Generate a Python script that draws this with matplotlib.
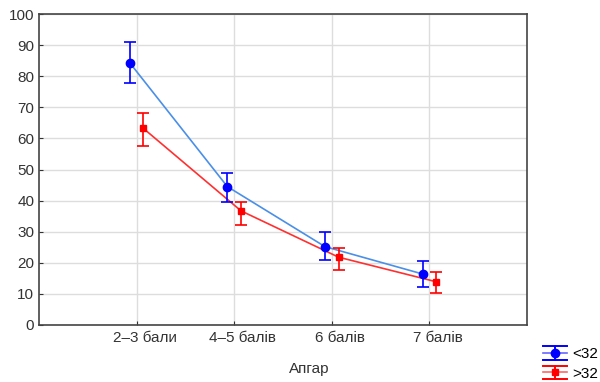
import matplotlib
matplotlib.use('Agg')
import matplotlib.pyplot as plt
import matplotlib.transforms as mtransforms
from matplotlib.legend_handler import HandlerBase
from matplotlib.lines import Line2D
import numpy as np

plt.rcParams['font.family'] = ['Liberation Sans', 'DejaVu Sans']

categories = ['2–3 бали', '4–5 балів', '6 балів', '7 балів']
lt32_mean = [84.3, 44.5, 25.2, 16.4]
lt32_low = [77.7, 39.6, 20.9, 12.3]
lt32_high = [90.9, 48.8, 29.8, 20.7]
gt32_mean = [63.2, 36.7, 21.8, 13.9]
gt32_low = [57.4, 32.2, 17.7, 10.4]
gt32_high = [68.3, 39.6, 24.9, 17.1]

x = np.arange(1, len(categories) + 1)

fig = plt.figure(figsize=(6, 3.82), dpi=100)
ax = fig.add_axes([39/600, 1 - 325/382, 488/600, 311/382])

def draw(xs, mean, low, high, mcolor, lcolor, marker, ms):
    mean = np.array(mean)
    yerr = [mean - np.array(low), np.array(high) - mean]
    ax.plot(xs, mean, color=lcolor, lw=1.2, zorder=2)
    ax.errorbar(xs, mean, yerr=yerr, fmt=marker, color=mcolor, ms=ms,
                capsize=4, elinewidth=1.2, capthick=1.2, zorder=3)

draw(x - 0.07, lt32_mean, lt32_low, lt32_high, '#0000ff', '#4a8fe8', 'o', 6)
draw(x + 0.07, gt32_mean, gt32_low, gt32_high, '#ff0000', '#ff3030', 's', 5)

ax.set_xlim(0, 5)
ax.set_ylim(0, 100)
ax.set_xticks(x)
ax.set_xticklabels(categories)
ax.set_yticks(range(0, 101, 10))
ax.grid(True, color='#dddddd', lw=1)
ax.set_axisbelow(True)
for s in ax.spines.values():
    s.set_color('#444444')
    s.set_linewidth(1.2)
ax.tick_params(colors='#333333', labelsize=11, length=3, direction='in')
ax.tick_params(axis='x', pad=4)
shift = mtransforms.ScaledTranslation(8/100, 0, fig.dpi_scale_trans)
for lbl in ax.get_xticklabels():
    lbl.set_transform(lbl.get_transform() + shift)
ax.set_xlabel('Апгар', fontsize=11, color='#333333')
ax.xaxis.set_label_coords(0.553, -0.118)


class ErrHandler(HandlerBase):
    def create_artists(self, legend, orig_handle, xdescent, ydescent,
                       width, height, fontsize, trans):
        color, marker, ms = orig_handle
        cy = height / 2 - ydescent
        x0, x1 = -xdescent, -xdescent + width
        xm = (x0 + x1) / 2
        d = 5
        arts = [
            Line2D([x0, x1], [cy, cy], color=color, lw=1.2, alpha=0.6),
            Line2D([x0, x1], [cy + d, cy + d], color=color, lw=1.4),
            Line2D([x0, x1], [cy - d, cy - d], color=color, lw=1.4),
            Line2D([xm, xm], [cy - d, cy + d], color=color, lw=1.4),
            Line2D([xm], [cy], marker=marker, ms=ms, color=color, lw=0),
        ]
        for a in arts:
            a.set_transform(trans)
        return arts


handles = [('#0000ff', 'o', 6), ('#ff0000', 's', 5)]
fig.legend(handles, ['<32', '>32'], handler_map={tuple: ErrHandler()},
           loc='upper left', bbox_to_anchor=(543/600, 1 - 346/382),
           frameon=False, fontsize=11, handlelength=1.57, handleheight=1.0,
           handletextpad=0.35, labelspacing=0.3, borderpad=0, borderaxespad=0)

fig.savefig('out.png', dpi=100)
